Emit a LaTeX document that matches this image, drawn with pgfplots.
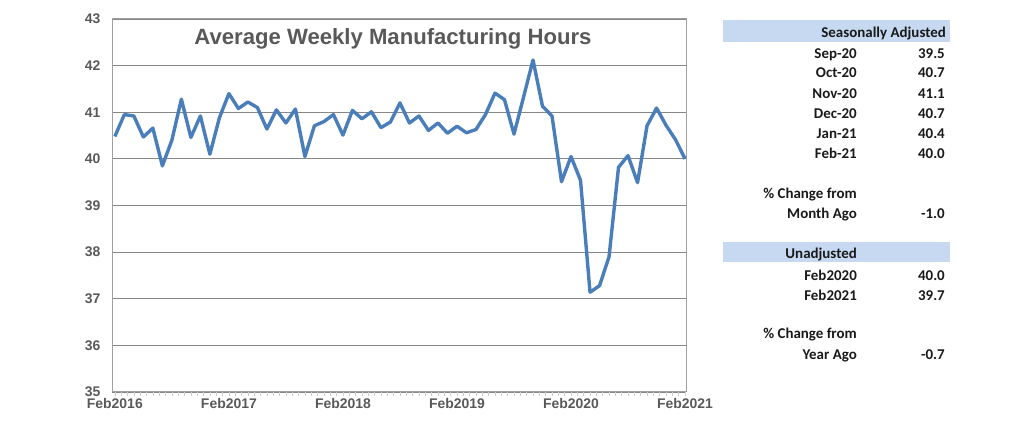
\documentclass[border=0pt]{standalone}
\usepackage{pgfplots}
\pgfplotsset{compat=1.18}
\usepackage{fontspec}
\setmainfont{Liberation Sans}
\newfontfamily\calibri{Carlito}
\definecolor{linecol}{HTML}{4A7EBB}
\definecolor{txtgray}{HTML}{595959}
\definecolor{gridcol}{HTML}{878787}
\definecolor{framecol}{HTML}{A0A0A0}
\definecolor{bandcol}{HTML}{C6D9F1}
\begin{document}
\begin{tikzpicture}[x=1bp,y=1bp]
\path[use as bounding box] (0,0) rectangle (1035,446);
\begin{axis}[
  at={(112bp,54bp)}, anchor=south west, scale only axis,
  width=574bp, height=373bp,
  xmin=-0.3, xmax=60.1, ymin=35, ymax=43,
  ytick={35,36,...,43},
  ymajorgrids, grid style={color=gridcol, line width=0.9bp},
  axis line style={color=framecol, line width=1bp},
  xtick={0,12,24,36,48,60},
  xticklabels={Feb2016,Feb2017,Feb2018,Feb2019,Feb2020,Feb2021},
  minor xtick={0,0.6667,...,60},
  xtick pos=lower,
  tick align=outside,
  major tick length=4bp, minor tick length=4bp,
  xtick style={color=gray!40, line width=0.7bp},
  minor tick style={color=gray!40, line width=0.7bp},
  ytick style={draw=none},
  /pgf/number format/assume math mode=true,
  tick label style={font=\bfseries\fontsize{14}{14}\selectfont, text=txtgray},
  yticklabel style={xshift=-4bp},
  xticklabel style={yshift=1bp},
  clip=false,
]
\addplot[color=linecol, line width=3.4bp, line join=round] coordinates {
(0,40.48) (1,40.95) (2,40.92) (3,40.47) (4,40.66) (5,39.85) (6,40.4) (7,41.28)
(8,40.46) (9,40.92) (10,40.1) (11,40.88) (12,41.4) (13,41.08) (14,41.22) (15,41.1)
(16,40.64) (17,41.05) (18,40.77) (19,41.07) (20,40.05) (21,40.71) (22,40.8) (23,40.95)
(24,40.51) (25,41.04) (26,40.86) (27,41.01) (28,40.67) (29,40.79) (30,41.2) (31,40.77)
(32,40.92) (33,40.61) (34,40.77) (35,40.55) (36,40.7) (37,40.56) (38,40.63) (39,40.95)
(40,41.41) (41,41.27) (42,40.53) (43,41.32) (44,42.12) (45,41.13) (46,40.92) (47,39.51)
(48,40.05) (49,39.54) (50,37.14) (51,37.28) (52,37.9) (53,39.82) (54,40.07) (55,39.49)
(56,40.71) (57,41.09) (58,40.72) (59,40.41) (60,40.0)
};
\node[font=\bfseries\fontsize{22.2}{22.2}\selectfont, text=txtgray, anchor=base]
  at (rel axis cs:0.4895,0.9303) {Average Weekly Manufacturing Hours};
\end{axis}
% side table
\fill[bandcol] (723,{446-41.7}) rectangle (950,{446-20});
\fill[bandcol] (723,{446-262.3}) rectangle (950,{446-241.7});
\begin{scope}[every node/.style={font=\calibri\bfseries\fontsize{15}{15}\selectfont, text=black!90, inner sep=0pt, anchor=base east}]
\node at (946,{446-38.0}) {Seasonally Adjusted};
\node at (857,{446-58.7}) {Sep-20};   \node at (945,{446-58.7}) {39.5};
\node at (857,{446-78.0}) {Oct-20};   \node at (945,{446-78.0}) {40.7};
\node at (857,{446-98.7}) {Nov-20};   \node at (945,{446-98.7}) {41.1};
\node at (857,{446-118.7}) {Dec-20};  \node at (945,{446-118.7}) {40.7};
\node at (857,{446-138.7}) {Jan-21};  \node at (945,{446-138.7}) {40.4};
\node at (857,{446-158.7}) {Feb-21};  \node at (945,{446-158.7}) {40.0};
\node at (857,{446-199.0}) {\% Change from};
\node at (857,{446-219.0}) {Month Ago}; \node at (945,{446-219.0}) {-1.0};
\node at (857,{446-259.0}) {Unadjusted};
\node at (857,{446-280.4}) {Feb2020}; \node at (945,{446-280.4}) {40.0};
\node at (857,{446-300.4}) {Feb2021}; \node at (945,{446-300.4}) {39.7};
\node at (857,{446-339.0}) {\% Change from};
\node at (857,{446-359.7}) {Year Ago}; \node at (945,{446-359.7}) {-0.7};
\end{scope}
\end{tikzpicture}
\end{document}
